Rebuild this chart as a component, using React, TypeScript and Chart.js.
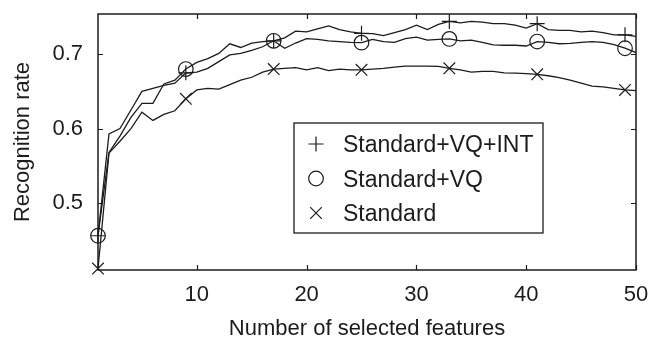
import React, { useEffect, useRef } from 'react';
import { Chart, registerables } from 'chart.js';

Chart.register(...registerables);

const FEATURES = [
  1, 2, 3, 4, 5, 6, 7, 8, 9, 10, 11, 12, 13, 14, 15, 16, 17, 18, 19, 20, 21, 22, 23, 24, 25,
  26, 27, 28, 29, 30, 31, 32, 33, 34, 35, 36, 37, 38, 39, 40, 41, 42, 43, 44, 45, 46, 47, 48, 49, 50,
];

const STD_VQ_INT = [
  0.456, 0.593, 0.600, 0.625, 0.650, 0.654, 0.658, 0.661, 0.675, 0.676,
  0.681, 0.690, 0.699, 0.701, 0.705, 0.710, 0.718, 0.722, 0.731, 0.730,
  0.734, 0.738, 0.733, 0.730, 0.728, 0.7275, 0.725, 0.729, 0.733, 0.739,
  0.733, 0.740, 0.744, 0.742, 0.744, 0.743, 0.741, 0.741, 0.739, 0.735,
  0.741, 0.733, 0.732, 0.732, 0.730, 0.731, 0.729, 0.726, 0.726, 0.724,
];

const STD_VQ = [
  0.456, 0.568, 0.590, 0.615, 0.634, 0.634, 0.660, 0.665, 0.680, 0.689,
  0.694, 0.701, 0.714, 0.709, 0.715, 0.717, 0.718, 0.708, 0.715, 0.721,
  0.720, 0.718, 0.717, 0.716, 0.7155, 0.720, 0.717, 0.716, 0.721, 0.723,
  0.719, 0.720, 0.7205, 0.718, 0.719, 0.716, 0.7125, 0.712, 0.712, 0.711,
  0.717, 0.716, 0.714, 0.7145, 0.716, 0.717, 0.716, 0.713, 0.708, 0.702,
];

const STD = [
  0.412, 0.567, 0.583, 0.600, 0.622, 0.611, 0.619, 0.624, 0.640, 0.652,
  0.654, 0.653, 0.659, 0.665, 0.669, 0.676, 0.680, 0.681, 0.682, 0.679,
  0.682, 0.678, 0.680, 0.679, 0.679, 0.680, 0.681, 0.6825, 0.684, 0.684,
  0.684, 0.6835, 0.681, 0.679, 0.676, 0.677, 0.677, 0.675, 0.6745, 0.674,
  0.673, 0.671, 0.6685, 0.665, 0.661, 0.657, 0.656, 0.654, 0.652, 0.651,
];

const SERIES_LABELS = ['Standard+VQ+INT', 'Standard+VQ', 'Standard'];
const X_TICKS = [10, 20, 30, 40, 50];
const Y_TICKS = [0.5, 0.6, 0.7];
const X_TITLE = 'Number of selected features';
const Y_TITLE = 'Recognition rate';

const INK = '#1c1c1c';
const FONT = "'Liberation Sans', Arial, Helvetica, sans-serif";

const markerRadius = (r: number) => (ctx: any) => (ctx.dataIndex % 8 === 0 ? r : 0);

function drawMarker(ctx: CanvasRenderingContext2D, style: string, x: number, y: number) {
  ctx.beginPath();
  if (style === 'plus') {
    const h = 7.5;
    ctx.moveTo(x - h, y); ctx.lineTo(x + h, y);
    ctx.moveTo(x, y - h); ctx.lineTo(x, y + h);
  } else if (style === 'circle') {
    ctx.arc(x, y, 7.3, 0, Math.PI * 2);
  } else {
    const h = 5.8;
    ctx.moveTo(x - h, y - h); ctx.lineTo(x + h, y + h);
    ctx.moveTo(x - h, y + h); ctx.lineTo(x + h, y - h);
  }
  ctx.stroke();
}

const framePlugin = {
  id: 'frame',
  afterDatasetsDraw(chart: any) {
    const { ctx, chartArea, scales } = chart;
    const { left, right, top, bottom } = chartArea;
    const xs = scales.x;
    const ys = scales.y;
    ctx.save();
    ctx.strokeStyle = INK;
    ctx.lineWidth = 1.5;
    ctx.strokeRect(left, top, right - left, bottom - top);
    ctx.lineWidth = 1.2;
    ctx.beginPath();
    const tl = 5;
    X_TICKS.forEach((v) => {
      const px = Math.round(xs.getPixelForValue(v)) + 0.5;
      ctx.moveTo(px, bottom); ctx.lineTo(px, bottom - tl);
      ctx.moveTo(px, top); ctx.lineTo(px, top + tl);
    });
    Y_TICKS.forEach((v) => {
      const py = Math.round(ys.getPixelForValue(v)) + 0.5;
      ctx.moveTo(left, py); ctx.lineTo(left + tl, py);
      ctx.moveTo(right, py); ctx.lineTo(right - tl, py);
    });
    ctx.stroke();

    // legend box
    const lx = left + 196;
    const ly = top + 109;
    const lw = 249;
    const lh = 110;
    ctx.fillStyle = '#ffffff';
    ctx.fillRect(lx, ly, lw, lh);
    ctx.lineWidth = 1.3;
    ctx.strokeRect(lx, ly, lw, lh);
    const styles = ['plus', 'circle', 'cross'];
    ctx.font = `23px ${FONT}`;
    ctx.textBaseline = 'alphabetic';
    ctx.textAlign = 'left';
    SERIES_LABELS.forEach((label, i) => {
      const cy = ly + 21 + i * 34.5;
      ctx.lineWidth = 1.2;
      drawMarker(ctx, styles[i], lx + 22, cy);
      ctx.fillStyle = INK;
      ctx.fillText(label, lx + 49, cy + 8);
    });
    ctx.restore();
  },
};

export default function App() {
  const ref = useRef<HTMLCanvasElement | null>(null);

  useEffect(() => {
    if (!ref.current) return;
    const mk = (vals: number[]) => FEATURES.map((f, i) => ({ x: f, y: vals[i] }));
    const common = {
      borderColor: INK,
      borderWidth: 1.3,
      pointBorderColor: INK,
      pointBackgroundColor: 'rgba(0,0,0,0)',
      pointBorderWidth: 1.2,
      tension: 0,
      fill: false,
      clip: false,
    };
    const chart = new Chart(ref.current, {
      type: 'line',
      data: {
        datasets: [
          { ...common, label: SERIES_LABELS[0], data: mk(STD_VQ_INT), pointStyle: 'cross', pointRadius: markerRadius(7.5), pointHoverRadius: markerRadius(7.5) },
          { ...common, label: SERIES_LABELS[1], data: mk(STD_VQ), pointStyle: 'circle', pointRadius: markerRadius(7.3), pointHoverRadius: markerRadius(7.3) },
          { ...common, label: SERIES_LABELS[2], data: mk(STD), pointStyle: 'crossRot', pointRadius: markerRadius(8.2), pointHoverRadius: markerRadius(8.2) },
        ],
      },
      options: {
        animation: false,
        responsive: false,
        events: [],
        layout: { padding: { top: 14, right: 26, left: 0, bottom: 0 } },
        plugins: {
          legend: { display: false },
          tooltip: { enabled: false },
        },
        scales: {
          x: {
            type: 'linear',
            min: 1,
            max: 50,
            grid: { display: false, drawTicks: false },
            border: { display: false },
            afterBuildTicks: (s: any) => { s.ticks = X_TICKS.map((v) => ({ value: v })); },
            afterFit: (s: any) => { s.height = 70; s.paddingLeft = 0; s.paddingRight = 0; },
            ticks: {
              color: INK,
              padding: 14,
              maxRotation: 0,
              autoSkip: false,
              font: { family: FONT, size: 22, lineHeight: 1 },
              callback: (v: any) => String(v),
            },
            title: {
              display: true,
              text: X_TITLE,
              color: INK,
              font: { family: FONT, size: 22, lineHeight: 1 },
              padding: { top: 0, bottom: 0 },
            },
          },
          y: {
            type: 'linear',
            min: 0.41,
            max: 0.754,
            grid: { display: false, drawTicks: false },
            border: { display: false },
            afterBuildTicks: (s: any) => { s.ticks = Y_TICKS.map((v) => ({ value: v })); },
            afterFit: (s: any) => { s.width = 98; s.paddingTop = 0; s.paddingBottom = 0; },
            ticks: {
              color: INK,
              padding: 15,
              autoSkip: false,
              font: { family: FONT, size: 22, lineHeight: 1 },
              callback: (v: any) => Number(v).toFixed(1),
            },
            title: {
              display: true,
              text: Y_TITLE,
              color: INK,
              font: { family: FONT, size: 22, lineHeight: 1 },
              padding: { top: 12, bottom: 0 },
            },
          },
        },
      },
      plugins: [framePlugin],
    } as any);
    return () => chart.destroy();
  }, []);

  return (
    <div style={{ position: 'fixed', left: 0, top: 0, width: 662, height: 340, background: '#fff' }}>
      <canvas ref={ref} width={662} height={340} style={{ display: 'block', width: 662, height: 340 }} />
    </div>
  );
}
